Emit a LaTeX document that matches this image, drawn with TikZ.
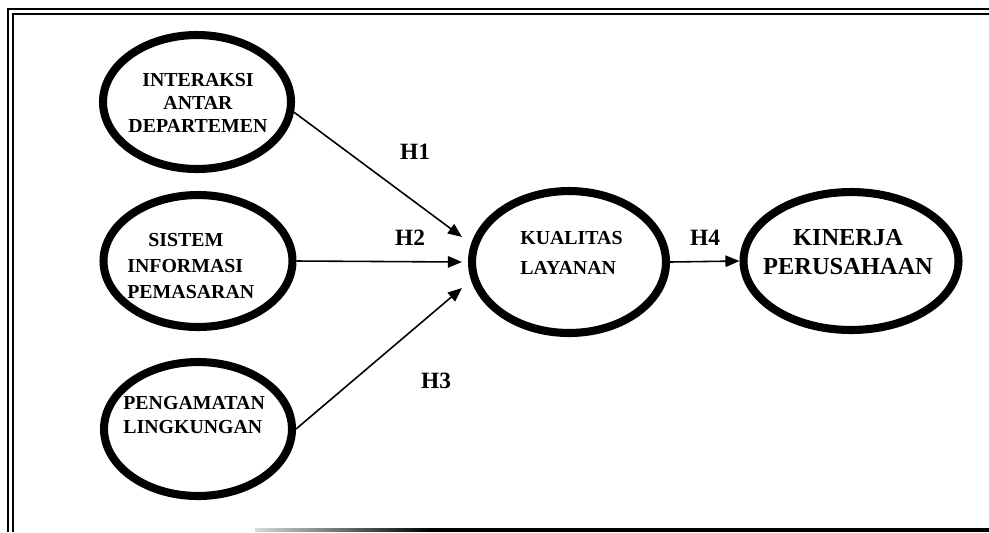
\documentclass[tikz,border=0pt]{standalone}
\usepackage{fontspec}
\setmainfont{Liberation Serif}
\usetikzlibrary{arrows.meta,calc,shapes.geometric}

\begin{document}
\begin{tikzpicture}[x=0.02cm,y=-0.02cm,>={Triangle[length=8pt,width=6.5pt]},
    var/.style={draw,ellipse,line width=4.6pt,inner sep=0pt},
    vtext/.style={inner sep=0pt,font=\bfseries\fontsize{11.3}{#1}\selectfont},
    vtext/.default=13.3,
    hyp/.style={inner sep=0pt,font=\bfseries\fontsize{13.3}{15}\selectfont},
    conn/.style={->,line width=0.9pt}]
      \useasboundingbox (0,0) rectangle (989,532);
      % frame
      \draw[line width=1.5pt] (989,9) -- (8,9) -- (8,532);
      \draw[line width=1.5pt] (989,14) -- (13,14) -- (13,532);
      \shade[left color=black!15,right color=black] (255,528) rectangle (430,531.5);
      \fill (430,528) rectangle (989,531.5);
      % variables
      \node[var,minimum width=3.76cm,minimum height=2.68cm] (ia) at (197,102) {};
      \node[var,minimum width=3.78cm,minimum height=2.64cm] (si) at (198,261) {};
      \node[var,minimum width=3.76cm,minimum height=2.68cm] (pl) at (198,429) {};
      \node[var,minimum width=3.88cm,minimum height=2.84cm] (kl) at (569,262) {};
      \node[var,minimum width=4.30cm,minimum height=2.76cm] (kp) at (851,261) {};
      \node[vtext,align=center] (ia-t) at (198,103) {INTERAKSI\\ANTAR\\DEPARTEMEN};
      \node[vtext=14.7,align=left,anchor=west] (si-t) at (127,266) {\hspace*{12pt}SISTEM\\INFORMASI\\PEMASARAN};
      \node[vtext=14.2,align=left,anchor=west] (pl-t) at (123,415) {PENGAMATAN\\LINGKUNGAN};
      \node[vtext=17,align=left,anchor=west] (kl-t) at (520,253) {KUALITAS\\LAYANAN};
      \node[inner sep=0pt,align=center,font=\bfseries\fontsize{13.9}{17}\selectfont] (kp-t) at (848,252) {KINERJA\\PERUSAHAAN};
      % hypotheses
      \foreach \x/\y/\name in {415/152/H1,410/238/H2,436/381/H3,705/238/H4}
        \node[hyp] (\name) at (\x,\y) {\name};
      \foreach \src/\dy in {ia.-6/-25,si.east/0,pl.east/26}
        \draw[conn] (\src) -- ($(kl.west)+(-6,\dy)$);
      \draw[conn] (kl.east) -- (kp.west);
    \end{tikzpicture}
\end{document}
